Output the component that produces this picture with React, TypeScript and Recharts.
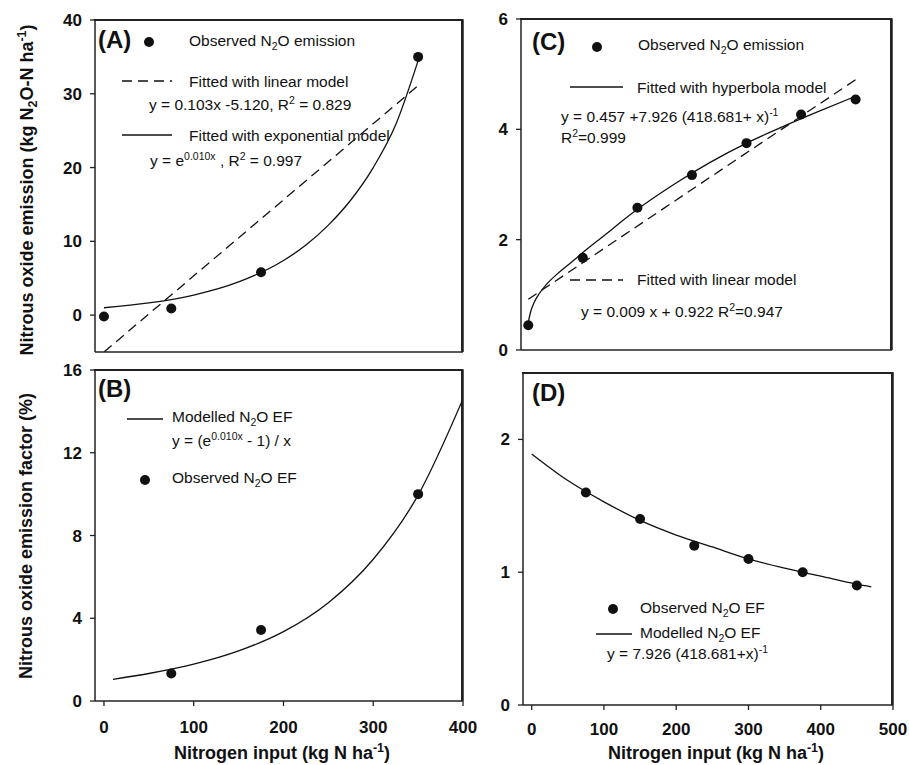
import React from "react";
import { ComposedChart, XAxis, YAxis, Line, Scatter } from "recharts";

const FONT = '"Liberation Sans", Arial, Helvetica, sans-serif';
const INK = "#111";

// ---------- Panel A: N2O emission vs N input ----------
const aObsX = [0, 75, 175, 350];
const aObsY = [-0.2, 0.9, 5.8, 35.0];
const aLinX = [0, 350];
const aLinY = [-5.0, 31.1];
const aExpX = [0, 50, 100, 150, 200, 225, 250, 275, 300, 325, 350];
const aExpY = [1.0, 1.65, 2.72, 4.5, 7.4, 9.5, 12.2, 15.6, 20.0, 25.8, 34.5];
const aXTicks = [0, 100, 200, 300, 400];
const aYTicks = [0, 10, 20, 30, 40];

// ---------- Panel B: emission factor vs N input ----------
const bObsX = [75, 175, 350];
const bObsY = [1.33, 3.43, 10.0];
const bModX = [10, 50, 100, 150, 200, 250, 300, 350, 400];
const bModY = [1.05, 1.33, 1.78, 2.42, 3.35, 4.75, 6.85, 9.95, 14.6];
const bXTicks = [0, 100, 200, 300, 400];
const bYTicks = [0, 4, 8, 12, 16];

// ---------- Panel C: emission vs N input (hyperbola) ----------
const cObsX = [0, 75, 150, 225, 300, 375, 450];
const cObsY = [0.45, 1.67, 2.58, 3.17, 3.75, 4.27, 4.54];
const cHypX = [0, 3, 8, 15, 25, 40, 60, 80, 100, 150, 200, 250, 300, 350, 400, 450];
const cHypY = [0.5, 0.68, 0.86, 1.02, 1.19, 1.38, 1.6, 1.82, 2.03, 2.55, 3.0, 3.4, 3.75, 4.05, 4.33, 4.6];
const cLinX = [0, 450];
const cLinY = [0.92, 4.9];
const cXTicks = [0, 100, 200, 300, 400, 500];
const cYTicks = [0, 2, 4, 6];

// ---------- Panel D: emission factor vs N input ----------
const dObsX = [75, 150, 225, 300, 375, 450];
const dObsY = [1.6, 1.4, 1.2, 1.1, 1.0, 0.9];
const dModX = [0, 50, 100, 150, 200, 250, 300, 350, 400, 450, 470];
const dModY = [1.89, 1.69, 1.53, 1.39, 1.28, 1.19, 1.1, 1.03, 0.97, 0.91, 0.89];
const dXTicks = [0, 100, 200, 300, 400, 500];
const dYTicks = [0, 1, 2];

const pts = (xs: number[], ys: number[]) => xs.map((x, i) => ({ x, y: ys[i] }));

const Dot = (props: any) => {
  const { cx, cy } = props;
  if (cx == null || cy == null) return null;
  return <circle cx={cx} cy={cy} r={5} fill={INK} />;
};

type Series = { xs: number[]; ys: number[]; kind: "dots" | "solid" | "dash"; curve?: boolean };

// plot boxes of the four panels (layout)
type Box = { x: number; y: number; w: number; h: number };
const boxA: Box = { x: 95, y: 20, w: 368, h: 332 };
const boxB: Box = { x: 95, y: 370, w: 368, h: 331 };
const boxC: Box = { x: 521, y: 19, w: 371, h: 331 };
const boxD: Box = { x: 523, y: 373, w: 370, h: 332 };

type PanelProps = {
  box: Box;
  xh: number;
  mr: number;
  xDomain: [number, number];
  yDomain: [number, number];
  xTicks: number[];
  yTicks: number[];
  showXLabels: boolean;
  xTickMargin: number;
  series: Series[];
};

function Panel(p: PanelProps) {
  const yw = 60;
  const mt = 15;
  const left = p.box.x - yw;
  const top = p.box.y - mt;
  const width = yw + p.box.w + p.mr;
  const height = mt + p.box.h + p.xh;
  const tickStyle = { fill: INK, fontSize: 17, fontWeight: "bold", fontFamily: FONT };
  const axisLine = { stroke: "#222", strokeWidth: 1.5 };
  return (
    <>
      {/* plot box frame (top and right edges) */}
      <div
        style={{
          position: "absolute",
          left: p.box.x - 1,
          top: p.box.y - 1,
          width: p.box.w + 1,
          height: p.box.h + 1,
          borderTop: "2px solid #222",
          borderRight: "2px solid #222",
          boxSizing: "border-box",
        }}
      />
      <div style={{ position: "absolute", left, top, width, height }}>
        <ComposedChart
          width={width}
          height={height}
          margin={{ top: mt, right: p.mr, left: 0, bottom: 0 }}
        >
          <XAxis
            dataKey="x"
            type="number"
            domain={p.xDomain}
            ticks={p.xTicks}
            allowDataOverflow
            height={p.xh}
            tickSize={5}
            tickMargin={p.xTickMargin}
            tick={p.showXLabels ? tickStyle : false}
            tickLine={{ stroke: "#222", strokeWidth: 1.3 }}
            axisLine={axisLine}
            interval={0}
          />
          <YAxis
            dataKey="y"
            type="number"
            domain={p.yDomain}
            ticks={p.yTicks}
            allowDataOverflow
            width={yw}
            tickSize={5}
            tickMargin={8}
            tick={tickStyle}
            tickLine={{ stroke: "#222", strokeWidth: 1.3 }}
            axisLine={axisLine}
            interval={0}
          />
          {p.series.map((s, i) =>
            s.kind === "dots" ? (
              <Scatter
                key={i}
                data={pts(s.xs, s.ys)}
                dataKey="y"
                shape={<Dot />}
                isAnimationActive={false}
              />
            ) : (
              <Line
                key={i}
                data={pts(s.xs, s.ys)}
                dataKey="y"
                type={s.curve ? "monotone" : "linear"}
                stroke={INK}
                strokeWidth={1.3}
                strokeDasharray={s.kind === "dash" ? "10 6" : undefined}
                dot={false}
                activeDot={false}
                isAnimationActive={false}
              />
            )
          )}
        </ComposedChart>
      </div>
    </>
  );
}

const SUB = { fontSize: 10.5 };

function Frame({ b }: { b: Box }) {
  return (
    <path
      d={`M${b.x},${b.y} H${b.x + b.w} V${b.y + b.h}`}
      fill="none"
      stroke="#222"
      strokeWidth={1.5}
    />
  );
}

function Legend() {
  const t = { fontFamily: FONT, fontSize: 15.5, fill: INK } as const;
  const lab = { fontFamily: FONT, fontSize: 24, fontWeight: "bold", fill: INK } as const;
  const title = { fontFamily: FONT, fontSize: 18, fontWeight: "bold", fill: INK } as const;
  const ln = { stroke: INK, strokeWidth: 1.3 };
  return (
    <svg
      width={909}
      height={765}
      style={{ position: "absolute", left: 0, top: 0, pointerEvents: "none" }}
    >
      <Frame b={boxA} />
      <Frame b={boxB} />
      <Frame b={boxC} />
      <Frame b={boxD} />

      {/* axis titles */}
      <text {...title} textAnchor="middle" transform="translate(33,190) rotate(-90)">
        Nitrous oxide emission (kg N<tspan dy={4} fontSize={12.5}>2</tspan>
        <tspan dy={-4}>O-N ha</tspan>
        <tspan dy={-7} fontSize={12.5}>-1</tspan>
        <tspan dy={7}>)</tspan>
      </text>
      <text {...title} textAnchor="middle" transform="translate(32,536) rotate(-90)">
        Nitrous oxide emission factor (%)
      </text>
      <text {...title} textAnchor="middle" x={282} y={759}>
        Nitrogen input (kg N ha<tspan dy={-7} fontSize={12.5}>-1</tspan>
        <tspan dy={7}>)</tspan>
      </text>
      <text {...title} textAnchor="middle" x={716} y={759}>
        Nitrogen input (kg N ha<tspan dy={-7} fontSize={12.5}>-1</tspan>
        <tspan dy={7}>)</tspan>
      </text>

      {/* Panel A */}
      <text {...lab} x={98} y={48}>(A)</text>
      <circle cx={149} cy={42} r={5} fill={INK} />
      <text {...t} x={189} y={46}>
        Observed N<tspan dy={4} {...SUB}>2</tspan>
        <tspan dy={-4}>O emission</tspan>
      </text>
      <line x1={122} x2={172} y1={81} y2={81} {...ln} strokeDasharray="10 6" />
      <text {...t} x={189} y={87}>Fitted with linear model</text>
      <text {...t} x={149} y={110}>
        y = 0.103x -5.120, R<tspan dy={-6} {...SUB}>2</tspan>
        <tspan dy={6}> = 0.829</tspan>
      </text>
      <line x1={122} x2={172} y1={135} y2={135} {...ln} />
      <text {...t} x={189} y={141}>Fitted with exponential model</text>
      <text {...t} x={150} y={166}>
        y = e<tspan dy={-6} {...SUB}>0.010x</tspan>
        <tspan dy={6}> , R</tspan>
        <tspan dy={-6} {...SUB}>2</tspan>
        <tspan dy={6}> = 0.997</tspan>
      </text>

      {/* Panel B */}
      <text {...lab} x={98} y={397}>(B)</text>
      <line x1={127} x2={163} y1={419} y2={419} {...ln} />
      <text {...t} x={172} y={422}>
        Modelled N<tspan dy={4} {...SUB}>2</tspan>
        <tspan dy={-4}>O EF</tspan>
      </text>
      <text {...t} x={172} y={446}>
        y = (e<tspan dy={-6} {...SUB}>0.010x</tspan>
        <tspan dy={6}> - 1) / x</tspan>
      </text>
      <circle cx={145} cy={480} r={5} fill={INK} />
      <text {...t} x={172} y={483}>
        Observed N<tspan dy={4} {...SUB}>2</tspan>
        <tspan dy={-4}>O EF</tspan>
      </text>

      {/* Panel C */}
      <text {...lab} x={532} y={50}>(C)</text>
      <circle cx={597} cy={47} r={5} fill={INK} />
      <text {...t} x={638} y={50}>
        Observed N<tspan dy={4} {...SUB}>2</tspan>
        <tspan dy={-4}>O emission</tspan>
      </text>
      <line x1={570} x2={623} y1={87} y2={87} {...ln} />
      <text {...t} x={637} y={93}>Fitted with hyperbola model</text>
      <text {...t} x={561} y={122}>
        y = 0.457 +7.926 (418.681+ x)<tspan dy={-6} {...SUB}>-1</tspan>
      </text>
      <text {...t} x={561} y={143}>
        R<tspan dy={-6} {...SUB}>2</tspan>
        <tspan dy={6}>=0.999</tspan>
      </text>
      <line x1={570} x2={623} y1={280} y2={280} {...ln} strokeDasharray="10 6" />
      <text {...t} x={637} y={285}>Fitted with linear model</text>
      <text {...t} x={581} y={317}>
        y = 0.009 x + 0.922 R<tspan dy={-6} {...SUB}>2</tspan>
        <tspan dy={6}>=0.947</tspan>
      </text>

      {/* Panel D */}
      <text {...lab} x={532} y={401}>(D)</text>
      <circle cx={613} cy={609} r={5} fill={INK} />
      <text {...t} x={640} y={613}>
        Observed N<tspan dy={4} {...SUB}>2</tspan>
        <tspan dy={-4}>O EF</tspan>
      </text>
      <line x1={596} x2={632} y1={634} y2={634} {...ln} />
      <text {...t} x={640} y={638}>
        Modelled N<tspan dy={4} {...SUB}>2</tspan>
        <tspan dy={-4}>O EF</tspan>
      </text>
      <text {...t} x={607} y={659}>
        y = 7.926 (418.681+x)<tspan dy={-6} {...SUB}>-1</tspan>
      </text>
    </svg>
  );
}

export default function App() {
  return (
    <div
      style={{
        position: "absolute",
        left: 0,
        top: 0,
        width: 909,
        height: 765,
        background: "#fff",
        overflow: "hidden",
      }}
    >
      <Panel
        box={boxA}
        xh={20}
        mr={15}
        xDomain={[-10, 400]}
        yDomain={[-5, 40]}
        xTicks={aXTicks}
        yTicks={aYTicks}
        showXLabels={false}
        xTickMargin={10}
        series={[
          { xs: aLinX, ys: aLinY, kind: "dash" },
          { xs: aExpX, ys: aExpY, kind: "solid", curve: true },
          { xs: aObsX, ys: aObsY, kind: "dots" },
        ]}
      />
      <Panel
        box={boxB}
        xh={45}
        mr={15}
        xDomain={[-10, 400]}
        yDomain={[0, 16]}
        xTicks={bXTicks}
        yTicks={bYTicks}
        showXLabels={true}
        xTickMargin={15}
        series={[
          { xs: bModX, ys: bModY, kind: "solid", curve: true },
          { xs: bObsX, ys: bObsY, kind: "dots" },
        ]}
      />
      <Panel
        box={boxC}
        xh={20}
        mr={15}
        xDomain={[-10, 500]}
        yDomain={[0, 6]}
        xTicks={cXTicks}
        yTicks={cYTicks}
        showXLabels={false}
        xTickMargin={10}
        series={[
          { xs: cLinX, ys: cLinY, kind: "dash" },
          { xs: cHypX, ys: cHypY, kind: "solid", curve: true },
          { xs: cObsX, ys: cObsY, kind: "dots" },
        ]}
      />
      <Panel
        box={boxD}
        xh={45}
        mr={16}
        xDomain={[-12, 500]}
        yDomain={[0, 2.5]}
        xTicks={dXTicks}
        yTicks={dYTicks}
        showXLabels={true}
        xTickMargin={13}
        series={[
          { xs: dModX, ys: dModY, kind: "solid", curve: true },
          { xs: dObsX, ys: dObsY, kind: "dots" },
        ]}
      />
      <Legend />
    </div>
  );
}
